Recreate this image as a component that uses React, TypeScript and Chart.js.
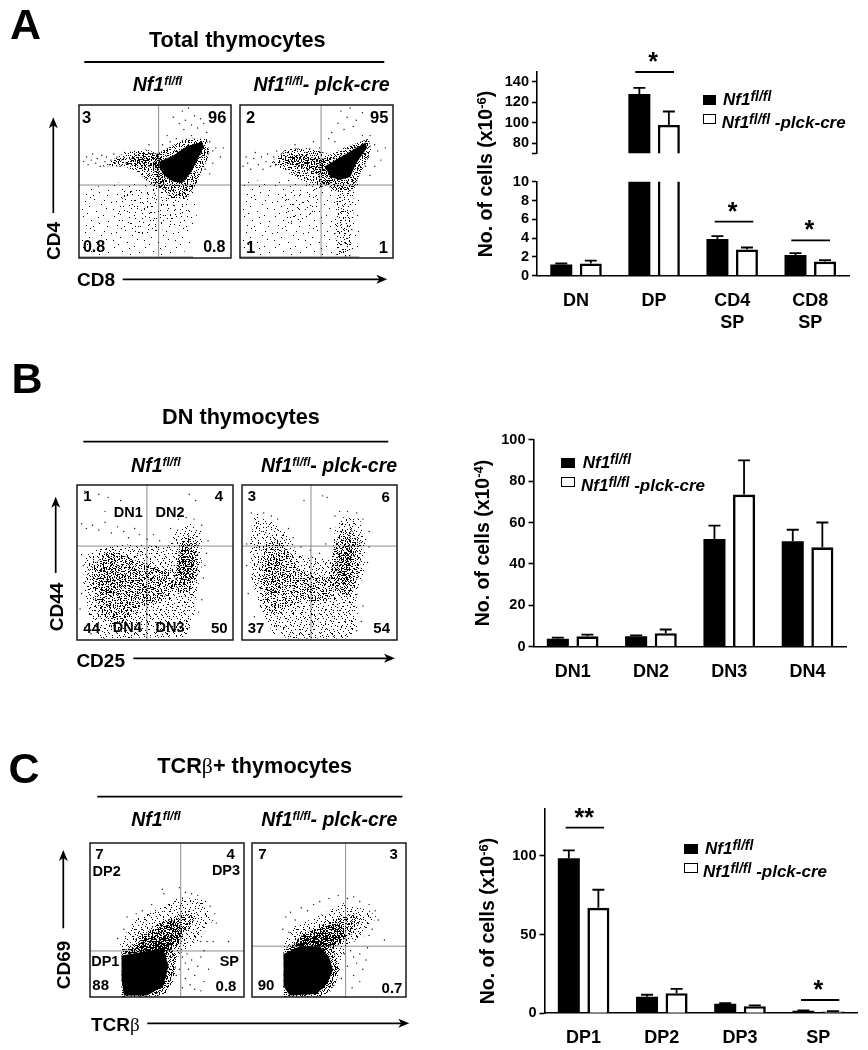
import React, { useEffect, useRef } from "react";
import { Chart, registerables } from "chart.js";

Chart.register(...registerables);

const FONT = "'Liberation Sans', Arial, sans-serif";

// ---------- bar chart values ----------
const catA = ["DN", "DP", ["CD4", "SP"], ["CD8", "SP"]];
const ctrlA = [1.2, 128, 3.9, 2.2];
const ctrlTopA = [1.3, 134, 4.2, 2.4];
const creA = [1.3, 98, 2.8, 1.5];
const creTopA = [1.6, 111, 3.0, 1.65];
const ticksAUpper = [70.45, 80, 100, 120, 140];
const ticksALower = [0, 2, 4, 6, 8, 10];

const catB = ["DN1", "DN2", "DN3", "DN4"];
const ctrlB = [3.8, 5, 52, 51];
const ctrlTopB = [4.4, 5.5, 58.5, 56.5];
const creB = [5, 6.5, 73.5, 48];
const creTopB = [5.8, 8.3, 90, 60];
const ticksB = [0, 20, 40, 60, 80, 100];

const catC = ["DP1", "DP2", "DP3", "SP"];
const ctrlC = [98.5, 10.5, 6, 1.6];
const ctrlTopC = [103.5, 11.8, 6.4, 1.8];
const creC = [67, 12.8, 4.5, 1.1];
const creTopC = [78.5, 15.5, 5, 1.3];
const ticksC = [0, 50, 100];

// ---------- flow plots: gates, density outlines and individual events ----------
const gateA1 = [52.4, 47.7];
const gateA2 = [53, 47.7];
const gateB1 = [44.8, 60.6];
const gateB2 = [44.5, 60.6];
const gateC1 = [58.9, 29.9];
const gateC2 = [60.8, 33];

const coreA1 = [[53,63],[62,67],[71,73],[81,76],[82,73],[78,64],[73,55],[68,49],[62,50],[56,54],[53,59]];
const haloA1 = [[49,50],[51,68],[70,78],[84,78],[86,68],[78,50],[72,40],[62,38]];
const tailA1 = [[30,62],[40,69],[53,68],[53,58],[45,60],[36,60]];
const wingA1 = [[15,60],[30,69],[45,71],[55,66],[58,50],[50,45],[40,55],[30,60]];
const lowA1 = [[2,2],[2,45],[30,50],[55,48],[75,50],[78,30],[72,5],[60,1]];
const midA1 = [[25,25],[30,45],[55,48],[72,48],[74,25],[60,20],[40,15]];
const dotsA1 = [[3,63],[5,66],[6,61],[8,64],[9,68],[11,62],[12,65],[14,60],[15,67],[17,63],[18,66],[20,61],[21,64],[23,68],[24,62],[25,66],[27,60],[28,64],[30,69],[31,62],[68,96],[70,90],[72,98],[74,87],[76,93],[78,85],[80,91],[69,84],[66,88],[62,92],[58,80],[60,76],[64,78],[84,82],[86,76],[88,70],[90,72],[85,68],[84,64],[88,62],[83,58],[80,56],[86,55],[93,66],[95,72],[74,80],[55,74],[46,74],[82,88]];

const coreA2 = [[55.5,60],[70,68.5],[82,75.5],[83,72],[76,62],[72,53],[65,51],[59,53]];
const haloA2 = [[52,50],[52,64],[68,72],[84,78],[86,70],[78,54],[74,44],[62,44]];
const tailA2 = [[28,66],[39,67.5],[55.5,64],[55.5,53],[39,60],[30,62]];
const wingA2 = [[20,62],[30,71],[44,72],[58,68],[62,50],[50,45],[38,52],[28,58]];
const lowA2 = [[2,2],[2,50],[30,52],[55,48],[78,50],[78,30],[78,4],[60,1]];
const colA2 = [[63,1],[62,25],[64,47],[74,47],[74,25],[72,1]];
const midA2 = [[28,22],[30,44],[48,46],[52,30],[40,25]];
const dotsA2 = [[2,60],[4,66],[5,62],[7,58],[9,65],[10,69],[12,61],[14,66],[15,58],[17,63],[18,68],[20,60],[22,66],[24,70],[26,63],[27,68],[66,96],[70,92],[72,98],[74,86],[68,84],[76,90],[80,95],[64,88],[60,82],[62,76],[58,78],[52,72],[85,80],[88,74],[90,70],[84,66],[92,64],[88,60],[82,60],[85,54],[80,80],[95,72],[48,76],[36,74]];

const cloudB1 = [[5,54],[15,60],[36,62],[58,60],[64,71],[73,75],[80,70],[80,49],[77,30],[75,13],[70,2],[15,1],[8,15],[4,37]];
const midB1 = [[8,45],[20,58],[36,52],[50,47],[62,45],[64,35],[55,25],[40,22],[32,12],[22,8],[12,25]];
const blobB1 = [[62,36],[66,62],[72,68],[78,60],[77,42],[72,30],[65,30]];
const coreB1 = [[64,42],[66,56],[72,62],[76,56],[74,40],[69,34]];
const leftB1 = [[12,38],[17,47],[27,48],[30,38],[24,30],[15,30]];
const centerB1 = [[63,44],[67,58],[72,60],[75,50],[71,38]];
const dotsB1 = [[5,96],[14,94],[20,92],[8,90],[3,75],[6,72],[10,74],[14,71],[18,76],[22,69],[26,73],[30,70],[33,66],[37,72],[40,68],[45,65],[49,68],[53,64],[28,90],[72,94],[76,90],[40,84],[18,83],[60,72],[65,78],[70,79],[75,78],[80,74],[84,64],[83,56],[82,48],[81,40],[3,30],[2,20],[4,48],[3,55],[5,8],[9,4],[72,8],[78,18],[80,26]];

const cloudB2 = [[5,60],[8,80],[20,76],[30,68],[36,55],[58,52],[60,72],[66,80],[76,78],[80,65],[79,45],[74,28],[75,10],[70,1],[55,1],[30,1],[20,4],[10,25],[6,40]];
const midB2 = [[10,40],[14,62],[24,65],[32,55],[36,45],[50,42],[60,40],[58,25],[40,25],[30,22],[22,15],[15,20]];
const blobB2 = [[57,35],[58,55],[63,70],[70,72],[77,62],[76,42],[70,28],[62,30]];
const coreB2 = [[60,42],[62,56],[68,62],[73,54],[71,40],[65,32]];
const centerB2 = [[61,44],[64,56],[69,58],[71,48],[66,36]];
const leftB2 = [[14,40],[18,54],[26,52],[30,42],[24,30],[16,30]];
const dotsB2 = [[6,82],[10,81],[14,82],[19,80],[23,78],[30,72],[33,66],[38,60],[44,58],[50,56],[54,62],[57,72],[60,80],[63,83],[68,83],[74,82],[78,78],[82,70],[82,60],[81,50],[52,93],[55,92],[3,62],[3,48],[4,30],[8,15],[12,8],[78,22],[77,12],[40,90],[74,6]];

const coreC1 = [[20.5,27],[47.5,31.5],[51,20],[47.5,7],[37,1],[22,1],[20.5,11]];
const rimC1 = [[20.5,30],[30,33],[50,36],[56,26],[55,12],[50,3],[42,0],[20.5,0]];
const cloudC1 = [[19,33],[28,50],[45,58],[58,65],[73,63],[80,50],[71,37],[58,28],[52,11],[43,1]];
const bandC1 = [[28,30],[35,39],[50,50],[63,56],[69,50],[58,37],[50,28]];
const denseC1 = [[24,26],[37,35],[47,39],[54,41],[52,33],[47,24]];
const bridgeC1 = [[22,28],[30,38],[45,48],[55,50],[62,44],[56,32],[48,28]];
const dotsC1 = [[48,67],[47,70],[58,71],[62,68],[66,67],[70,66],[75,62],[78,59],[81,54],[82,48],[76,36],[72,36],[80,36],[90,36],[24,52],[22,44],[18,38],[30,54],[34,56],[40,60],[60,26],[62,22],[64,18],[66,24],[68,14],[70,20],[72,26],[74,10],[65,8],[62,12],[68,5],[72,4],[60,6],[74,30],[63,28],[77,18],[58,18],[56,14]];

const coreC2 = [[20.5,28],[31,33],[44,33],[50,26],[52.6,17.5],[49,9],[42,2],[24.5,1],[20.5,7]];
const rimC2 = [[20.5,31],[30,36],[46,37],[53,30],[57,18],[54,8],[46,0],[20.5,0]];
const cloudC2 = [[20,33],[27,46],[42,52],[59,61],[76,56],[81,52],[72,39],[61,33],[55,15],[50,1]];
const bandC2 = [[26.5,35],[37,43],[52.6,50],[65.6,54],[72,50],[65.6,41],[52.6,33]];
const denseC2 = [[24.5,33],[35,39],[48,43],[55,39],[50,33]];
const bridgeC2 = [[22,30],[32,40],[46,46],[58,48],[62,40],[54,32],[46,30]];
const dotsC2 = [[22,52],[25,55],[28,50],[32,58],[36,56],[40,60],[44,62],[50,64],[56,66],[62,64],[66,65],[70,62],[76,60],[80,56],[82,50],[78,44],[76,40],[86,37],[20,44],[24,42],[64,30],[66,26],[68,22],[70,28],[72,18],[74,24],[66,14],[70,10],[62,20],[65,6],[75,32],[60,28],[58,12]];

// ---------- fill textures for the density regions (1px speckles) ----------
const tileThin = [[2,5],[5,19],[8,28],[11,9],[13,23],[16,2],[18,14],[21,26],[23,7],[25,18],[28,11],[30,24],[4,12],[9,16],[15,29],[20,20],[26,3],[12,0],[29,29],[7,4]];
const tileSparse = [[1,3],[4,14],[6,7],[8,20],[10,2],[11,11],[13,17],[15,5],[16,22],[18,9],[19,14],[21,1],[22,18],[3,9],[7,16],[12,6],[2,21],[17,12],[20,6],[9,12]];
const tileMedium = [[0,2],[1,9],[2,15],[3,5],[4,12],[5,18],[6,1],[6,8],[7,14],[8,4],[9,11],[10,17],[11,7],[11,0],[12,13],[13,3],[14,9],[14,16],[15,6],[16,12],[17,1],[17,18],[18,8],[3,16],[9,2],[5,10],[13,15],[16,4]];
const tileDense = [[0,1],[0,7],[1,4],[1,11],[2,2],[2,8],[3,5],[3,12],[4,0],[4,9],[5,3],[5,6],[6,10],[6,1],[7,7],[7,12],[8,3],[8,5],[9,9],[9,0],[10,6],[10,11],[11,2],[11,8],[12,4],[12,10],[3,9],[8,11]];
const textureAngles = [0, 31, 58, 17, 73, 44, 9, 66, 23, 81];

function texture(ctx: CanvasRenderingContext2D, size: number, cells: number[][], angle: number) {
  const c = document.createElement("canvas");
  c.width = size;
  c.height = size;
  const g = c.getContext("2d")!;
  g.fillStyle = "#000";
  cells.forEach(([x, y]) => g.fillRect(x, y, 1, 1));
  const p = ctx.createPattern(c, "repeat")!;
  p.setTransform(new DOMMatrix().rotate(angle));
  return p;
}

function toXY(list: number[][]) {
  return list.map(([x, y]) => ({ x, y }));
}

const framePlugin = {
  id: "frame",
  beforeDraw(chart: any) {
    chart.ctx.imageSmoothingEnabled = false;
  },
  afterDatasetsDraw(chart: any) {
    const { ctx, chartArea: a } = chart;
    ctx.save();
    ctx.strokeStyle = "#1a1a1a";
    ctx.lineWidth = 1.5;
    ctx.strokeRect(a.left, a.top, a.right - a.left, a.bottom - a.top);
    ctx.restore();
  },
};

type Layer = [string, number[][]];

function FlowPlot({ x, y, w, h, gate, layers, dots, pile }: { x: number; y: number; w: number; h: number; gate: number[]; layers: Layer[]; dots: number[][]; pile?: number }) {
  const ref = useRef<HTMLCanvasElement>(null);
  useEffect(() => {
    const ctx = ref.current!.getContext("2d")!;
    const fillFor = (kind: string, i: number) => {
      const angle = textureAngles[i % textureAngles.length];
      if (kind === "solid") return "#000";
      if (kind === "thin") return texture(ctx, 31, tileThin, angle);
      if (kind === "sparse") return texture(ctx, 23, tileSparse, angle);
      if (kind === "medium") return texture(ctx, 19, tileMedium, angle);
      return texture(ctx, 13, tileDense, angle);
    };
    const polygons = layers.map(([kind, pts], i) => ({
      type: "scatter",
      data: toXY(pts),
      showLine: true,
      fill: "shape",
      tension: 0,
      pointRadius: 0,
      borderWidth: 0,
      backgroundColor: fillFor(kind, i),
    }));
    const gateLine = (pts: number[][]) => ({
      type: "scatter",
      data: toXY(pts),
      showLine: true,
      pointRadius: 0,
      borderWidth: 1,
      borderColor: "#8c8c8c",
    });
    const datasets: any[] = [
      ...polygons,
      {
        type: "scatter",
        data: toXY(dots),
        pointRadius: 0.7,
        borderWidth: 0,
        backgroundColor: "#111",
      },
      gateLine([[gate[0], 0], [gate[0], 100]]),
      gateLine([[0, gate[1]], [100, gate[1]]]),
    ];
    if (pile) {
      datasets.push({
        type: "scatter",
        data: toXY([[0, 0.6], [pile, 0.6]]),
        showLine: true,
        pointRadius: 0,
        borderWidth: 1.2,
        borderColor: "#777",
      });
    }
    const chart = new Chart(ref.current!, {
      type: "scatter",
      data: { datasets },
      options: {
        animation: false,
        responsive: false,
        layout: { padding: 1, autoPadding: false },
        plugins: { legend: { display: false }, tooltip: { enabled: false } },
        scales: {
          x: { display: false, min: 0, max: 100 },
          y: { display: false, min: 0, max: 100 },
        },
      },
      plugins: [framePlugin],
    } as any);
    return () => chart.destroy();
  }, []);
  return <canvas ref={ref} width={w + 2} height={h + 2} style={{ position: "absolute", left: x - 1, top: y - 1, width: w + 2, height: h + 2 }} />;
}

function BarPlot(props: any) {
  const { left, top, width, height, area, labels, ctrl, ctrlTop, cre, creTop, min, max, ticks, showX } = props;
  const ref = useRef<HTMLCanvasElement>(null);
  useEffect(() => {
    const tops = [ctrlTop, creTop];
    const errorBars = {
      id: "errorBars",
      afterDatasetsDraw(chart: any) {
        const { ctx, scales } = chart;
        ctx.save();
        ctx.strokeStyle = "#000";
        ctx.lineWidth = 1.8;
        chart.data.datasets.forEach((ds: any, i: number) => {
          chart.getDatasetMeta(i).data.forEach((el: any, j: number) => {
            const up = tops[i][j];
            if (up > max || ds.data[j] < min) return;
            const yTop = scales.y.getPixelForValue(up);
            ctx.beginPath();
            ctx.moveTo(el.x, el.y);
            ctx.lineTo(el.x, yTop);
            ctx.moveTo(el.x - 6, yTop);
            ctx.lineTo(el.x + 6, yTop);
            ctx.stroke();
          });
        });
        ctx.restore();
      },
    };
    const chart = new Chart(ref.current!, {
      type: "bar",
      data: {
        labels,
        datasets: [
          { label: "Nf1fl/fl", data: ctrl, backgroundColor: "#000", borderWidth: 0 },
          { label: "Nf1fl/fl-plck-cre", data: cre, backgroundColor: "#fff", borderColor: "#000", borderWidth: 2.6 },
        ],
      },
      options: {
        animation: false,
        responsive: false,
        categoryPercentage: 0.756,
        barPercentage: 0.745,
        layout: { padding: { left: 0, top: area.top, right: area.right, bottom: showX ? 0 : area.bottom } },
        plugins: { legend: { display: false }, tooltip: { enabled: false } },
        scales: {
          x: {
            display: showX,
            afterFit: (s: any) => { s.height = area.bottom; },
            grid: { drawOnChartArea: false, drawTicks: false },
            border: { display: true, color: "#000", width: 1.6 },
            ticks: { color: "#000", padding: 14, maxRotation: 0, autoSkip: false, font: { family: FONT, size: 18, weight: "bold", lineHeight: 1.22 } },
          },
          y: {
            min,
            max,
            afterFit: (s: any) => { s.width = area.left; },
            afterBuildTicks: (s: any) => { s.ticks = ticks.map((value: number) => ({ value })); },
            grid: { drawOnChartArea: false, drawTicks: true, tickLength: 5, tickWidth: 1.6, tickColor: "#000" },
            border: { display: true, color: "#000", width: 1.6 },
            ticks: {
              color: "#000",
              padding: 3,
              autoSkip: false,
              font: { family: FONT, size: 14.5, weight: "bold" },
              callback: (v: number) => (Number.isInteger(v) ? String(v) : ""),
            },
          },
        },
      },
      plugins: [errorBars],
    } as any);
    return () => chart.destroy();
  }, []);
  return <canvas ref={ref} width={width} height={height} style={{ position: "absolute", left, top, width, height }} />;
}

function T({ x, y, size = 15, rotate = 0, style, children }: any) {
  return (
    <div
      style={{
        position: "absolute",
        left: x,
        top: y,
        transform: `translate(-50%,-50%) rotate(${rotate}deg)`,
        fontFamily: FONT,
        fontWeight: "bold",
        fontSize: size,
        lineHeight: 1,
        whiteSpace: "nowrap",
        color: "#000",
        ...style,
      }}
    >
      {children}
    </div>
  );
}

const Sup = ({ size = 12, lift = 6, children }: any) => (
  <span style={{ fontSize: size, position: "relative", top: -lift }}>{children}</span>
);

const Ctrl = () => (
  <i>
    Nf1<Sup>fl/fl</Sup>
  </i>
);
const Cre = () => (
  <i>
    Nf1<Sup>fl/fl</Sup>- plck-cre
  </i>
);

function Legend({ x, y1, y2, text1, text2 }: any) {
  return (
    <>
      <div style={{ position: "absolute", left: x, top: y1, width: 13.5, height: 10, background: "#000" }} />
      <div style={{ position: "absolute", left: x, top: y2, width: 13.5, height: 10, background: "#fff", border: "1.3px solid #000", boxSizing: "border-box" }} />
      <div style={{ position: "absolute", left: text1, top: y1 - 5, fontFamily: FONT, fontWeight: "bold", fontStyle: "italic", fontSize: 17, lineHeight: "20px", whiteSpace: "nowrap" }}>
        Nf1<Sup size={14} lift={4}>fl/fl</Sup>
      </div>
      <div style={{ position: "absolute", left: text2, top: y2 - 1, fontFamily: FONT, fontWeight: "bold", fontStyle: "italic", fontSize: 17, lineHeight: "20px", whiteSpace: "nowrap" }}>
        Nf1<Sup size={14} lift={4}>fl/fl</Sup> -plck-cre
      </div>
    </>
  );
}

function HArrow({ x1, x2, y }: any) {
  return (
    <g>
      <line x1={x1} x2={x2 - 6} y1={y} y2={y} stroke="#000" strokeWidth={1.7} />
      <path d={`M${x2},${y} L${x2 - 11},${y - 4.5} L${x2 - 8},${y} L${x2 - 11},${y + 4.5} Z`} fill="#000" />
    </g>
  );
}
function VArrow({ x, y1, y2 }: any) {
  return (
    <g>
      <line x1={x} x2={x} y1={y1} y2={y2 + 6} stroke="#000" strokeWidth={1.7} />
      <path d={`M${x},${y2} L${x - 4.5},${y2 + 11} L${x},${y2 + 8} L${x + 4.5},${y2 + 11} Z`} fill="#000" />
    </g>
  );
}
const Rule = ({ x1, x2, y, w = 1.8 }: any) => <line x1={x1} x2={x2} y1={y} y2={y} stroke="#000" strokeWidth={w} />;

const Star = ({ x, y, text = "*" }: any) => <T x={x} y={y + 3} size={25}>{text}</T>;

export default function App() {
  return (
    <div style={{ position: "absolute", left: 0, top: 0, width: 868, height: 1050, overflow: "hidden", background: "#fff" }}>
      <FlowPlot x={79} y={105} w={152} h={153} gate={gateA1} pile={75} dots={dotsA1}
        layers={[["thin", lowA1], ["sparse", midA1], ["medium", wingA1], ["dense", wingA1], ["dense", haloA1], ["dense", haloA1], ["dense", tailA1], ["medium", tailA1], ["dense", tailA1], ["solid", coreA1]]} />
      <FlowPlot x={240} y={105} w={153} h={153} gate={gateA2} pile={78} dots={dotsA2}
        layers={[["thin", lowA2], ["medium", colA2], ["sparse", colA2], ["sparse", midA2], ["medium", wingA2], ["dense", wingA2], ["dense", tailA2], ["dense", tailA2], ["dense", haloA2], ["dense", haloA2], ["solid", coreA2]]} />
      <FlowPlot x={77} y={485} w={156} h={155} gate={gateB1} dots={dotsB1}
        layers={[["medium", cloudB1], ["sparse", cloudB1], ["dense", midB1], ["medium", midB1], ["dense", blobB1], ["medium", blobB1], ["dense", leftB1], ["dense", coreB1], ["dense", centerB1]]} />
      <FlowPlot x={242} y={485} w={155} h={155} gate={gateB2} dots={dotsB2}
        layers={[["medium", cloudB2], ["sparse", cloudB2], ["dense", midB2], ["dense", blobB2], ["medium", blobB2], ["dense", coreB2], ["dense", leftB2], ["dense", centerB2]]} />
      <FlowPlot x={90} y={843} w={154} h={154} gate={gateC1} dots={dotsC1}
        layers={[["medium", cloudC1], ["sparse", cloudC1], ["dense", bandC1], ["medium", bandC1], ["dense", bridgeC1], ["dense", bridgeC1], ["dense", denseC1], ["dense", denseC1], ["dense", rimC1], ["dense", rimC1], ["solid", coreC1]]} />
      <FlowPlot x={252} y={843} w={154} h={154} gate={gateC2} dots={dotsC2}
        layers={[["medium", cloudC2], ["sparse", cloudC2], ["dense", bandC2], ["medium", bandC2], ["dense", bridgeC2], ["dense", bridgeC2], ["dense", denseC2], ["dense", denseC2], ["dense", rimC2], ["dense", rimC2], ["solid", coreC2]]} />

      <BarPlot left={470} top={60} width={390} height={105} showX={false} area={{ left: 67, top: 9.3, right: 10.7, bottom: 2 }}
        labels={catA} ctrl={ctrlA} ctrlTop={ctrlTopA} cre={creA} creTop={creTopA} min={70.45} max={149.6} ticks={ticksAUpper} />
      <BarPlot left={470} top={170} width={390} height={170} showX={true} area={{ left: 67, top: 11.7, right: 10.7, bottom: 64.3 }}
        labels={catA} ctrl={ctrlA} ctrlTop={ctrlTopA} cre={creA} creTop={creTopA} min={0} max={10} ticks={ticksALower} />
      <BarPlot left={470} top={428} width={390} height={280} showX={true} area={{ left: 63.5, top: 10.3, right: 13.3, bottom: 61.3 }}
        labels={catB} ctrl={ctrlB} ctrlTop={ctrlTopB} cre={creB} creTop={creTopB} min={0} max={100} ticks={ticksB} />
      <BarPlot left={470} top={797} width={395} height={253} showX={true} area={{ left: 74.5, top: 10.3, right: 7.7, bottom: 36.7 }}
        labels={catC} ctrl={ctrlC} ctrlTop={ctrlTopC} cre={creC} creTop={creTopC} min={0} max={130} ticks={ticksC} />

      <svg width={868} height={1050} style={{ position: "absolute", left: 0, top: 0, pointerEvents: "none" }}>
        <Rule x1={84.3} x2={384.3} y={62} />
        <Rule x1={83.3} x2={388.3} y={441.7} />
        <Rule x1={97.3} x2={402.3} y={796.7} />
        <VArrow x={53.3} y1={213} y2={117.3} />
        <HArrow x1={122.7} x2={387.3} y={279.3} />
        <VArrow x={55.7} y1={573} y2={496.7} />
        <HArrow x1={133.3} x2={395} y={658.3} />
        <VArrow x={63.3} y1={928.3} y2={850} />
        <HArrow x1={147.3} x2={409.3} y={1023.3} />
        <Rule x1={635.3} x2={674} y={72} />
        <Rule x1={714.7} x2={753.3} y={221.7} />
        <Rule x1={791.3} x2={830} y={240.3} />
        <Rule x1={565.7} x2={604} y={827.7} />
        <Rule x1={801} x2={839.3} y={1000} />
      </svg>

      {/* Panel A */}
      <T x={25.5} y={24} size={43}>A</T>
      <T x={237.3} y={40} size={21.7}>Total thymocytes</T>
      <T x={157.5} y={85} size={19.5}><Ctrl /></T>
      <T x={321.5} y={85} size={19.5}><Cre /></T>
      <T x={86.7} y={117.3} size={16.5}>3</T>
      <T x={217.3} y={116.7} size={16.5}>96</T>
      <T x={94} y={246.7} size={16}>0.8</T>
      <T x={214.3} y={246.7} size={16}>0.8</T>
      <T x={250.7} y={117} size={16.5}>2</T>
      <T x={379.3} y={117} size={16.5}>95</T>
      <T x={250.7} y={246.7} size={16.5}>1</T>
      <T x={383.3} y={246.7} size={16.5}>1</T>
      <T x={53.3} y={240.7} size={19} rotate={-90}>CD4</T>
      <T x={96} y={279.3} size={19}>CD8</T>
      <T x={485.7} y={174} size={19.5} rotate={-90}>No. of cells (x10<Sup size={13} lift={6}>-6</Sup>)</T>
      <Star x={653} y={58} />
      <Star x={732.7} y={207.7} />
      <Star x={809.3} y={226} />
      <Legend x={702.7} y1={95.3} y2={114} text1={723} text2={721.7} />

      {/* Panel B */}
      <T x={27} y={378} size={43}>B</T>
      <T x={241} y={416.7} size={21.7}>DN thymocytes</T>
      <T x={155.8} y={465.7} size={19.5}><Ctrl /></T>
      <T x={329} y={466} size={19.5}><Cre /></T>
      <T x={87.3} y={495} size={15}>1</T>
      <T x={219} y={495} size={15}>4</T>
      <T x={128.3} y={512.3} size={14.5}>DN1</T>
      <T x={170} y={512.3} size={14.5}>DN2</T>
      <T x={91.7} y={627.3} size={15}>44</T>
      <T x={127.3} y={626.7} size={14.5}>DN4</T>
      <T x={170} y={626.7} size={14.5}>DN3</T>
      <T x={219.3} y={627.3} size={15}>50</T>
      <T x={252} y={495} size={15}>3</T>
      <T x={385.7} y={495.7} size={15}>6</T>
      <T x={256} y={627.3} size={15}>37</T>
      <T x={381.7} y={627.3} size={15}>54</T>
      <T x={55.7} y={606.7} size={19} rotate={-90}>CD44</T>
      <T x={100.7} y={660} size={19}>CD25</T>
      <T x={482.7} y={543} size={19.5} rotate={-90}>No. of cells (x10<Sup size={13} lift={6}>-4</Sup>)</T>
      <Legend x={561.3} y1={458.3} y2={476.7} text1={582.7} text2={581} />

      {/* Panel C */}
      <T x={24} y={768.3} size={43}>C</T>
      <T x={254.7} y={766} size={21.7}>TCR<span style={{ fontFamily: "'Liberation Serif', serif", fontWeight: "normal" }}>β</span>+ thymocytes</T>
      <T x={156} y={820} size={19.5}><Ctrl /></T>
      <T x={329.2} y={820} size={19.5}><Cre /></T>
      <T x={99.3} y={853.3} size={15}>7</T>
      <T x={106.7} y={870.7} size={14.5}>DP2</T>
      <T x={230.7} y={853.3} size={15}>4</T>
      <T x={226} y={870} size={14.5}>DP3</T>
      <T x={105.3} y={960.7} size={14.5}>DP1</T>
      <T x={229.3} y={960.7} size={14.5}>SP</T>
      <T x={100.7} y={984.3} size={15}>88</T>
      <T x={226} y={985} size={15}>0.8</T>
      <T x={262.3} y={853.3} size={15}>7</T>
      <T x={393.7} y={853.3} size={15}>3</T>
      <T x={266} y={984.3} size={15}>90</T>
      <T x={392} y={987} size={15}>0.7</T>
      <T x={63.3} y={965} size={19} rotate={-90}>CD69</T>
      <T x={115.3} y={1024} size={19}>TCR<span style={{ fontFamily: "'Liberation Serif', serif", fontWeight: "normal" }}>β</span></T>
      <T x={488.3} y={920.5} size={19.5} rotate={-90}>No. of cells (x10<Sup size={13} lift={6}>-6</Sup>)</T>
      <Star x={584.3} y={814} text="**" />
      <Star x={818.3} y={986} />
      <Legend x={684} y1={844} y2={862.7} text1={705} text2={703} />
    </div>
  );
}
